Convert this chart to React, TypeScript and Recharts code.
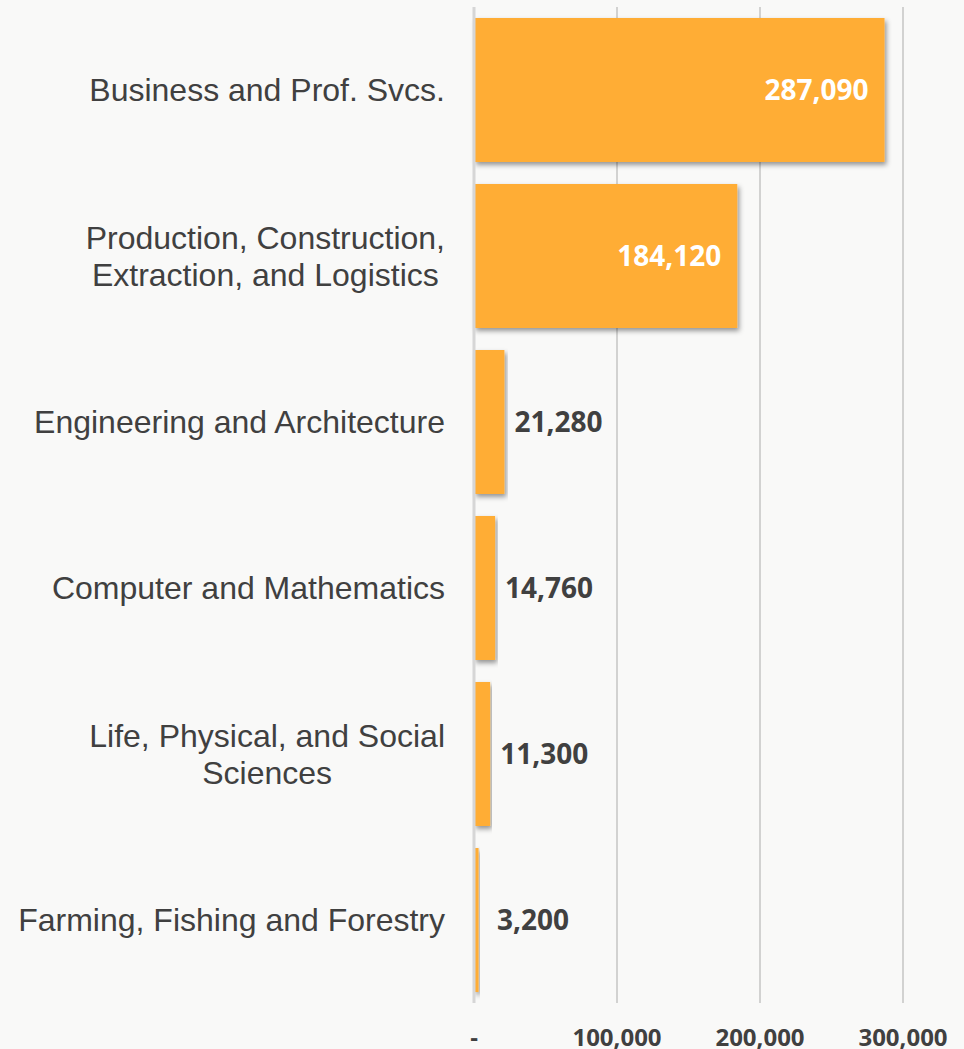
import { Bar, BarChart, CartesianGrid, LabelList, XAxis, YAxis } from "recharts";

const categories = [
  "Business and Prof. Svcs.",
  "Production, Construction,\nExtraction, and Logistics",
  "Engineering and Architecture",
  "Computer and Mathematics",
  "Life, Physical, and Social\nSciences",
  "Farming, Fishing and Forestry",
];
const jobs = [287090, 184120, 21280, 14760, 11300, 3200];
const xTicks = [0, 100000, 200000, 300000];

const data = categories.map((name, i) => ({ name, jobs: jobs[i] }));

const CAT_FONT = "32px 'Liberation Sans', Arial, sans-serif";
const fmt = (v: number) => (v === 0 ? "-" : v.toLocaleString("en-US"));

let ctx: CanvasRenderingContext2D | null = null;
function textWidth(s: string) {
  if (!ctx) ctx = document.createElement("canvas").getContext("2d");
  if (!ctx) return s.length * 15;
  ctx.font = CAT_FONT;
  return ctx.measureText(s).width;
}

function CategoryTick(props: any) {
  const { x, y, payload } = props;
  const lines: string[] = String(payload.value).split("\n");
  const right = x - 21;
  const lineH = 37;
  const y0 = y - ((lines.length - 1) * lineH) / 2;
  if (lines.length === 1) {
    return (
      <text x={right} y={y} dy="0.35em" textAnchor="end" fill="#404040"
        style={{ font: CAT_FONT }}>
        {lines[0]}
      </text>
    );
  }
  const w = Math.max(...lines.map(textWidth));
  return (
    <text x={right - w / 2} y={y0} textAnchor="middle" fill="#404040"
      style={{ font: CAT_FONT }}>
      {lines.map((l, i) => (
        <tspan key={i} x={right - w / 2} y={y0 + i * lineH} dy="0.35em">
          {l}
        </tspan>
      ))}
    </text>
  );
}

function ValueLabel(props: any) {
  const { x, y, width, height, value } = props;
  const end = x + width;
  const inside = width > 200;
  return (
    <text
      x={inside ? end - 16 : Math.max(end + 10, 497)}
      y={y + height / 2}
      dy="0.36em"
      textAnchor={inside ? "end" : "start"}
      fill={inside ? "#ffffff" : "#404040"}
      style={{ fontFamily: "'Open Sans', sans-serif", fontWeight: 700, fontSize: 28 }}
    >
      {fmt(value)}
    </text>
  );
}

export default function App() {
  return (
    <div style={{ position: "absolute", left: 0, top: 0, width: 964, height: 1049, background: "#f9f9f8" }}>
      <BarChart
        width={964}
        height={1049}
        data={data}
        layout="vertical"
        margin={{ top: 7, right: 61, left: 0, bottom: 0 }}
        barSize={144}
      >
        <defs>
          <filter id="barShadow" x="-5%" y="-5%" width="115%" height="120%">
            <feDropShadow dx="2" dy="3" stdDeviation="2.5" floodColor="#000" floodOpacity="0.4" />
          </filter>
        </defs>
        <CartesianGrid horizontal={false} stroke="#c4c4c4" strokeWidth={1.5} />
        <XAxis
          type="number"
          domain={[0, 300000]}
          ticks={xTicks}
          tickFormatter={fmt}
          axisLine={false}
          tickLine={false}
          height={46}
          tickMargin={20}
          tick={{ fill: "#404040", fontFamily: "'Open Sans', sans-serif", fontWeight: 700, fontSize: 24 }}
        />
        <YAxis
          type="category"
          dataKey="name"
          width={474}
          axisLine={{ stroke: "#d6d6d6", strokeWidth: 3 }}
          tickLine={false}
          interval={0}
          tick={<CategoryTick />}
        />
        <Bar dataKey="jobs" fill="#ffad35" filter="url(#barShadow)" isAnimationActive={false}>
          <LabelList dataKey="jobs" content={<ValueLabel />} />
        </Bar>
      </BarChart>
    </div>
  );
}
